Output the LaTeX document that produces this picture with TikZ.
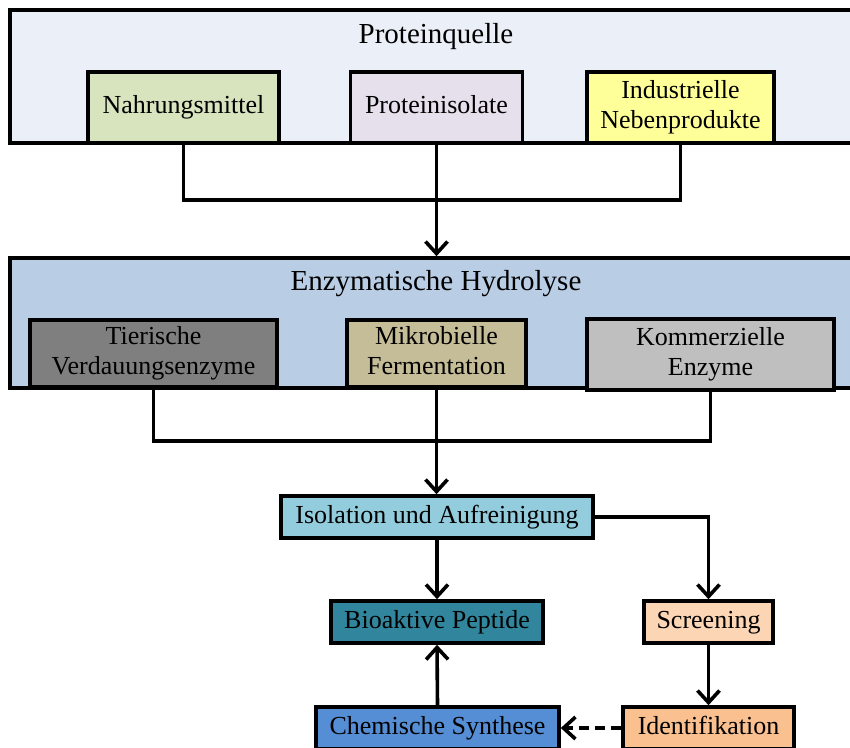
\documentclass[tikz,border=0pt]{standalone}
\usepackage{fontspec}
\setmainfont{Liberation Serif}
\usetikzlibrary{arrows.meta}
\definecolor{pqfill}{HTML}{EBF0F8}
\definecolor{ehfill}{HTML}{B9CDE5}
\definecolor{nahrfill}{HTML}{D7E4BD}
\definecolor{protfill}{HTML}{E5E0EC}
\definecolor{indufill}{HTML}{FFFF99}
\definecolor{tierfill}{HTML}{7F7F7F}
\definecolor{mikrfill}{HTML}{C4BD97}
\definecolor{kommfill}{HTML}{BFBFBF}
\definecolor{isofill}{HTML}{93CDDD}
\definecolor{biofill}{HTML}{31859C}
\definecolor{scrfill}{HTML}{FCD5B5}
\definecolor{idenfill}{HTML}{FAC090}
\definecolor{chemfill}{HTML}{558ED5}
\newcommand\bxs{\rule[-6pt]{0pt}{24pt}}
\tikzset{
  box/.style={draw=black, line width=3.6pt, rectangle, inner sep=0pt, align=center,
    font=\fontsize{26}{30}\selectfont},
  titletext/.style={inner sep=0pt, anchor=base, font=\fontsize{29}{34}\selectfont},
  conn/.style={draw=black, line width=3.6pt},
  arr/.style={conn, -{Straight Barb[length=12pt, width=22pt, line width=3.6pt]}},
  dasharr/.style={arr, dash pattern=on 10pt off 6pt}
}
\begin{document}
\begin{tikzpicture}[x=1pt, y=-1pt]
\useasboundingbox (0,0) rectangle (850,747);
% big frames
\node[box, fill=pqfill, minimum width=860pt, minimum height=133pt] (pq) at (440,76.5) {};
\node[titletext] (pqt) at (436,43) {Proteinquelle};
\node[box, fill=nahrfill, minimum width=191pt, minimum height=71pt] (nahr) at (183.5,107.5) {\bxs Nahrungsmittel};
\node[box, fill=protfill, minimum width=172pt, minimum height=71pt] (prot) at (436.5,107.5) {\bxs Proteinisolate};
\node[box, fill=indufill, minimum width=187pt, minimum height=71pt] (indu) at (680.5,107.5) {\bxs Industrielle\\\bxs Nebenprodukte};

\node[box, fill=ehfill, minimum width=860pt, minimum height=130pt] (eh) at (440,323) {};
\node[titletext] (eht) at (436,290) {Enzymatische Hydrolyse};
\node[box, fill=tierfill, minimum width=247pt, minimum height=67pt] (tier) at (153.5,353.5) {\bxs Tierische\\\bxs Verdauungsenzyme};
\node[box, fill=mikrfill, minimum width=179pt, minimum height=67pt] (mikr) at (436.5,353.5) {\bxs Mikrobielle\\\bxs Fermentation};
\node[box, fill=kommfill, minimum width=247pt, minimum height=71pt] (komm) at (710.5,354.5) {\bxs Kommerzielle\\\bxs Enzyme};

\node[box, fill=isofill, minimum width=312pt, minimum height=42pt] (iso) at (437,517) {\bxs Isolation und Aufreinigung};
\node[box, fill=biofill, minimum width=212pt, minimum height=42pt] (bio) at (437,622) {\bxs Bioaktive Peptide};
\node[box, fill=scrfill, minimum width=129pt, minimum height=42pt] (scr) at (708.5,622) {\bxs Screening};
\node[box, fill=chemfill, minimum width=243pt, minimum height=42pt] (chem) at (437.5,728) {\bxs Chemische Synthese};
\node[box, fill=idenfill, minimum width=171pt, minimum height=42pt] (iden) at (708.5,728) {\bxs Identifikation};

% connectors
\coordinate (j1) at (436.5,200);
\draw[conn] (nahr.south) |- (j1) -| (indu.south);
\draw[arr] (prot.south) -- (prot.south |- eh.north);
\coordinate (j2) at (436.5,441);
\draw[conn] (tier.south) |- (j2) -| (komm.south);
\draw[arr] (mikr.south) -- (mikr.south |- iso.north);
\draw[arr] (iso.south) -- (bio.north);
\draw[arr] (iso.east) -| (scr.north);
\draw[arr] (scr.south) -- (iden.north);
\draw[arr] (chem.north) -- (bio.south);
\draw[dasharr] (iden.west) -- (chem.east);
\end{tikzpicture}
\end{document}
